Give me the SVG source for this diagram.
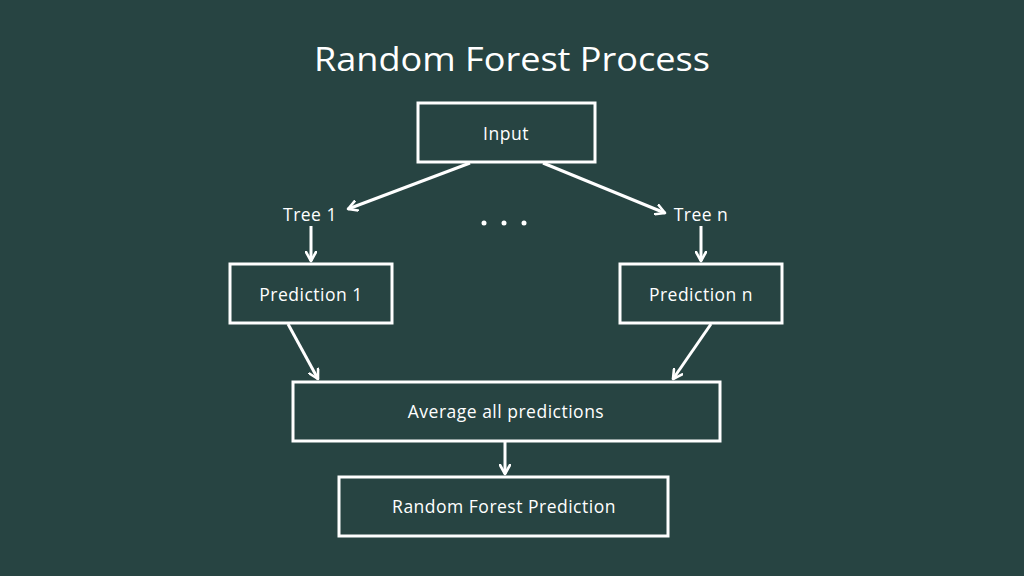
<svg xmlns="http://www.w3.org/2000/svg" width="1024" height="576" viewBox="0 0 1024 576">
<defs>
<marker id="arr" viewBox="0 0 12 12" refX="10" refY="6" markerWidth="12" markerHeight="12" markerUnits="userSpaceOnUse" orient="auto">
<path d="M1,1 L10,6 L1,11" fill="none" stroke="#ffffff" stroke-width="2.6" stroke-linecap="round" stroke-linejoin="round"/>
</marker>
<style>
.box{fill:none;stroke:#ffffff;stroke-width:3}
.lbl{font-family:"Open Sans","Liberation Sans",sans-serif;font-size:17.5px;font-weight:500;letter-spacing:0.5px;fill:#ffffff;text-anchor:middle;dominant-baseline:central}
.title{font-family:"Open Sans","Liberation Sans",sans-serif;font-size:32px;font-weight:500;fill:#ffffff;text-anchor:middle}
.con{stroke:#ffffff;stroke-width:3;fill:none;marker-end:url(#arr)}
</style>
</defs>
<rect width="1024" height="576" fill="#274442"/>
<text class="title" x="512" y="71" textLength="396" lengthAdjust="spacingAndGlyphs">Random Forest Process</text>
<g id="input"><rect class="box" x="418" y="103" width="177" height="59"/><text class="lbl" x="506" y="133">Input</text></g>
<g id="tree1"><text class="lbl" x="310" y="214">Tree 1</text></g>
<g id="treen"><text class="lbl" x="701" y="214">Tree n</text></g>
<g id="dots" fill="#ffffff"><circle cx="484" cy="223" r="2.5"/><circle cx="504" cy="223" r="2.5"/><circle cx="524" cy="223" r="2.5"/></g>
<g id="pred1"><rect class="box" x="230" y="264" width="162" height="59"/><text class="lbl" x="311" y="294">Prediction 1</text></g>
<g id="predn"><rect class="box" x="620" y="264" width="162" height="59"/><text class="lbl" x="701" y="294">Prediction n</text></g>
<g id="avg"><rect class="box" x="293" y="382" width="427" height="59"/><text class="lbl" x="506" y="411">Average all predictions</text></g>
<g id="rfp"><rect class="box" x="339" y="477" width="329" height="59"/><text class="lbl" x="504" y="506">Random Forest Prediction</text></g>
<g id="connectors">
<line class="con" x1="470" y1="163" x2="348" y2="209"/>
<line class="con" x1="543" y1="163" x2="665" y2="213"/>
<line class="con" x1="311" y1="226" x2="311" y2="261"/>
<line class="con" x1="701" y1="226" x2="701" y2="261"/>
<line class="con" x1="288" y1="324" x2="318" y2="379"/>
<line class="con" x1="711" y1="324" x2="673" y2="379"/>
<line class="con" x1="505" y1="442" x2="505" y2="474"/>
</g>
</svg>
